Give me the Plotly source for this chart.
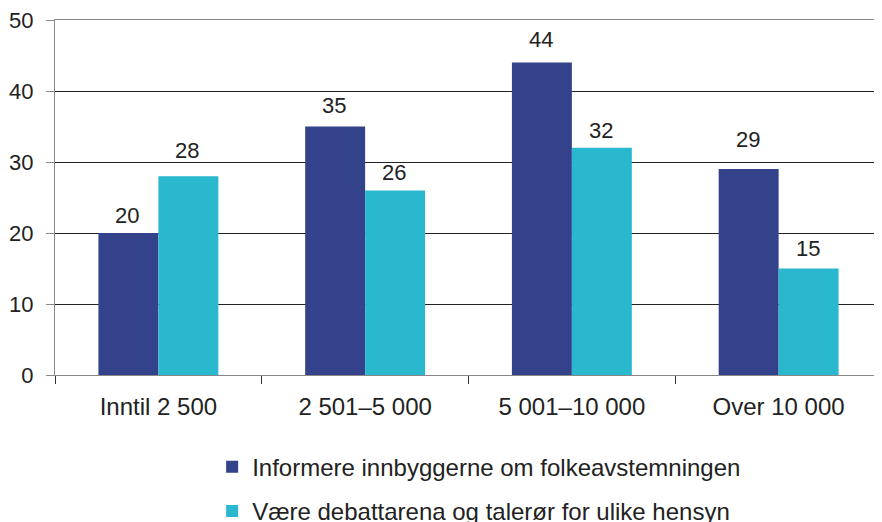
import plotly.graph_objects as go

categories = ["Inntil 2 500", "2 501–5 000", "5 001–10 000", "Over 10 000"]
informere = [20, 35, 44, 29]
debattarena = [28, 26, 32, 15]
series_names = [
    "Informere innbyggerne om folkeavstemningen",
    "Være debattarena og talerør for ulike hensyn",
]
y_ticks = [0, 10, 20, 30, 40, 50]

# pixel lift of each value label above its bar (the original placed them by hand)
label_lift_a = [3, 7, 9, 15]
label_lift_b = [11, 3, 3, 6]

family = "Liberation Sans, Arial, sans-serif"
font = dict(family=family, size=22, color="#222222")
big_font = dict(family=family, size=24, color="#222222")

fig = go.Figure()
fig.add_trace(go.Bar(
    x=categories, y=informere, name=series_names[0],
    marker=dict(color="#33428A", line_width=0),
    legendgroup="a",
))
fig.add_trace(go.Bar(
    x=categories, y=debattarena, name=series_names[1],
    marker=dict(color="#2AB8CE", line_width=0),
    legendgroup="b",
))

# value labels above each bar, offset to the bar centres
for values, lifts, shift in ((informere, label_lift_a, -31), (debattarena, label_lift_b, 29)):
    for cat, v, lift in zip(categories, values, lifts):
        fig.add_annotation(
            x=cat, y=v, text=str(v), showarrow=False,
            xshift=shift, yshift=lift, yanchor="bottom",
            font=font,
        )

# page body adds an 8px margin, so the figure is 8px smaller and shifted
fig.update_layout(
    width=874, height=514,
    margin=dict(l=47, r=0, t=12, b=147, autoexpand=False),
    paper_bgcolor="white", plot_bgcolor="white",
    font=font,
    barmode="group", bargap=0.42, bargroupgap=0,
    showlegend=True,
    legend=dict(
        x=0.19, y=-0.196, xanchor="left", yanchor="top",
        orientation="v", tracegroupgap=10,
        font=big_font,
        bgcolor="rgba(0,0,0,0)",
    ),
)
fig.update_xaxes(
    type="category", tickson="boundaries", automargin=False,
    showline=True, linecolor="#888888", linewidth=1, mirror=True,
    ticks="outside", ticklen=8, tickcolor="#333333",
    ticklabelstandoff=10,
    tickfont=big_font,
    showgrid=False,
)
fig.update_yaxes(
    range=[0, 50], tickvals=y_ticks, automargin=False,
    showline=True, linecolor="#888888", linewidth=1,
    ticks="outside", ticklen=8, tickcolor="#888888",
    ticklabelstandoff=8, ticklabeloverflow="allow",
    showgrid=True, gridcolor="#222222", gridwidth=1,
    zeroline=False,
)

fig.write_html("out.html")
